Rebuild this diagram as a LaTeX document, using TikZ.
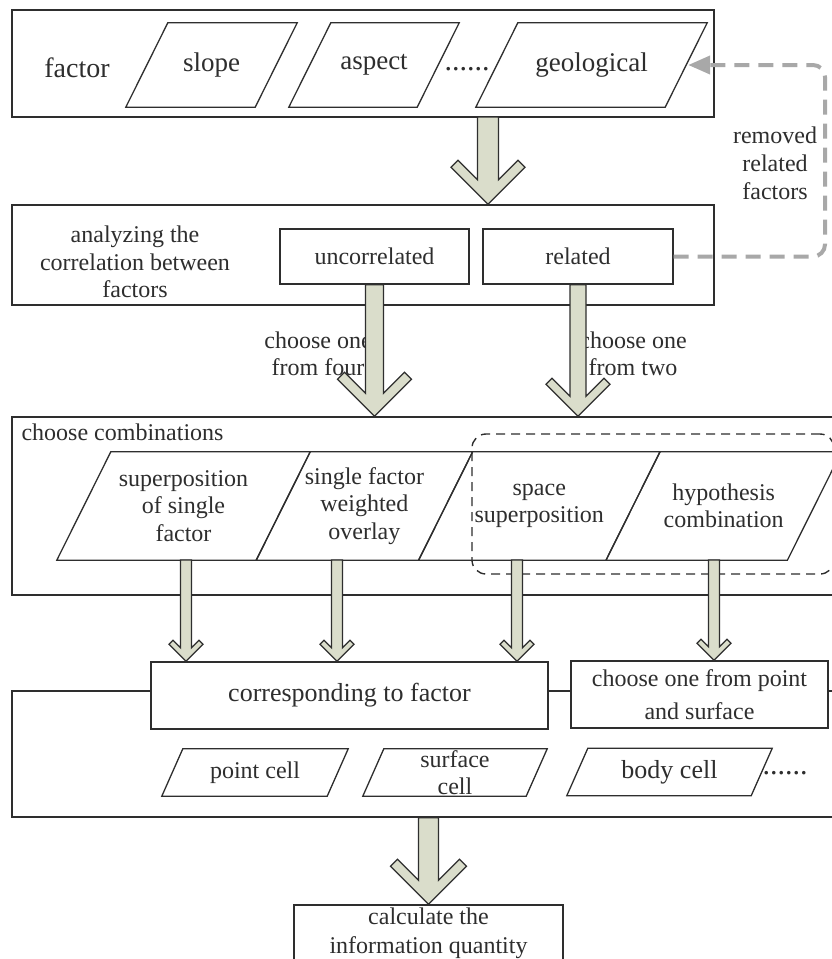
\documentclass[tikz,border=0pt]{standalone}
\usepackage{fontspec}
\setmainfont{Liberation Serif}
\usetikzlibrary{calc}
\usetikzlibrary{positioning}
\usetikzlibrary{arrows.meta}
\definecolor{inkgray}{HTML}{2E2E2E}
\definecolor{arrowfill}{HTML}{DADDCB}
\definecolor{loopgray}{HTML}{A8A8A8}

% block arrow with a chevron head: from, to, shaft half width, head half width, arm
\newcommand{\fatarrow}[5]{%
  \draw[fatarrow] let \p1=(#1), \p2=(#2) in
    (\x1-#3pt,\y1) -- (\x1-#3pt,\y2+#3pt+2*#5pt) -- (\x1-#4pt+#5pt,\y2+#4pt+#5pt)
    -- (\x1-#4pt,\y2+#4pt) -- (\x1,\y2) -- (\x1+#4pt,\y2+#4pt)
    -- (\x1+#4pt-#5pt,\y2+#4pt+#5pt) -- (\x1+#3pt,\y2+#3pt+2*#5pt) -- (\x1+#3pt,\y1) -- cycle;}
% parallelogram round a node: node, slant
\newcommand{\drawpara}[2]{%
  \draw[paraline] (#1.south west) -- ([xshift=#2pt]#1.north west) -- (#1.north east)
    -- ([xshift=-#2pt]#1.south east) -- cycle;}

\begin{document}
\begin{tikzpicture}[x=1pt,y=-1pt,text=inkgray,font=\fontsize{24}{27.5}\selectfont]
  \tikzstyle{frame}=[draw=inkgray,line width=1.4pt,inner sep=0pt]
  \tikzstyle{box}=[frame,fill=white,align=center]
  \tikzstyle{para}=[rectangle,inner sep=0pt,align=center]
  \tikzstyle{paraline}=[draw=inkgray,line width=1.3pt,line join=miter]
  \tikzstyle{dots}=[inner sep=0pt,font=\fontsize{30}{30}\selectfont]
  \tikzstyle{fatarrow}=[draw=inkgray,line width=1.2pt,fill=arrowfill,line join=miter]
  \tikzstyle{removed}=[draw=loopgray,line width=4pt,dash pattern=on 15pt off 9pt,rounded corners=12pt]
  \tikzstyle{group}=[draw=inkgray,line width=1.4pt,dash pattern=on 9pt off 6pt,rounded corners=14pt,inner sep=0pt]

  \useasboundingbox (0,0) rectangle (832,959);
  \clip (0,0) rectangle (832,959);
  \fill[white] (0,0) rectangle (832,959);

  % factors
  \node[frame,minimum width=702pt,minimum height=107pt] (factorbox) at (363,63.5) {};
  \node[font=\fontsize{28}{30}\selectfont] (factor) at (77,68) {factor};
  \node[para,font=\fontsize{27}{30}\selectfont,minimum width=171pt,minimum height=84pt] (slope) at (211.5,65) {slope};
  \node[para,font=\fontsize{27}{30}\selectfont,minimum width=170pt,minimum height=84pt] (aspect) at (374,65) {aspect};
  \node[para,font=\fontsize{27}{30}\selectfont,minimum width=231pt,minimum height=84pt] (geo) at (591.5,65) {geological};
  \drawpara{slope}{42}
  \drawpara{aspect}{42}
  \drawpara{geo}{42}
  \node[dots] (dots1) at (467,69) {......};

  % correlation
  \node[frame,minimum width=702pt,minimum height=100pt] (corrbox) at (363,255) {};
  \node[align=center] (analyze) at (135,262) {analyzing the\\correlation between\\factors};
  \node[box,minimum width=189pt,minimum height=55pt] (uncorr) at (374.5,256.5) {uncorrelated};
  \node[box,minimum width=190pt,minimum height=55pt] (related) at (578,256.5) {related};

  \coordinate (loopx) at (825,0);
  \draw[removed,-{Triangle[length=22pt,width=18pt]}] (related.east) -- (related.east -| loopx) |- ([xshift=-19pt]geo.east);
  \node[align=center,font=\fontsize{24}{28}\selectfont] (remtext) at (775,163) {removed\\related\\factors};

  \coordinate (a0) at (488,117);
  \fatarrow{a0}{corrbox.north}{10.5}{37}{7}

  % combinations
  \node[frame,minimum width=888pt,minimum height=178pt] (combobox) at (456,506) {};
  \node[anchor=west] (combtext) at (18,432) {choose combinations};
  \node[para,minimum width=253pt,minimum height=108pt] (p1) at (183.5,506) {superposition\\of single\\factor};
  \node[para,minimum width=216pt,minimum height=108pt,anchor=south west] (p2) at ([xshift=-54pt]p1.south east) {single factor\\weighted\\overlay};
  \node[para,minimum width=241pt,minimum height=108pt,anchor=south west] (p3) at ([xshift=-54pt]p2.south east) {space\\superposition};
  \node[para,minimum width=235pt,minimum height=108pt,anchor=south west] (p4) at ([xshift=-54pt]p3.south east) {hypothesis\\combination};
  \drawpara{p1}{54}
  \drawpara{p2}{54}
  \drawpara{p3}{54}
  \drawpara{p4}{54}
  \node[group,minimum width=362pt,minimum height=140pt] (grp) at (653,504) {};

  \node[align=center] (four) at (318,354) {choose one\\from four};
  \node[align=center] (two) at (633,354) {choose one\\from two};
  \fatarrow{uncorr.south}{combobox.north}{9}{37}{7}
  \fatarrow{related.south}{combobox.north}{8}{32}{6}

  % cells
  \node[frame,minimum width=888pt,minimum height=126pt] (cellbox) at (456,754) {};
  \node[box,font=\fontsize{26}{30}\selectfont,minimum width=397pt,minimum height=67pt] (corr) at (349.5,695.5) {corresponding to factor};
  \node[box,font=\fontsize{24}{33}\selectfont,minimum width=257pt,minimum height=67pt] (choosept) at (699.5,694.5) {choose one from point\\and surface};
  \node[para,minimum width=186pt,minimum height=47pt] (point) at (255,772.5) {point cell};
  \node[para,minimum width=184pt,minimum height=47pt] (surf) at (455,772.5) {};
  \node[align=center,font=\fontsize{24}{27}\selectfont] (surftext) at (surf.center) {surface\\cell};
  \node[para,font=\fontsize{26}{30}\selectfont,minimum width=205pt,minimum height=47pt] (body) at (669.5,772) {body cell};
  \drawpara{point}{21}
  \drawpara{surf}{21}
  \drawpara{body}{21}
  \node[dots] (dots2) at (785,773) {......};

  \coordinate (d1) at (186,560);
  \coordinate (d2) at (337,560);
  \coordinate (d3) at (517,560);
  \coordinate (d4) at (714,560);
  \fatarrow{d1}{corr.north}{5.5}{17}{4}
  \fatarrow{d2}{corr.north}{5.5}{17}{4}
  \fatarrow{d3}{corr.north}{5.5}{17}{4}
  \fatarrow{d4}{choosept.north}{5.5}{17}{4}

  % result
  \node[box,minimum width=269pt,minimum height=56pt,font=\fontsize{24}{29}\selectfont] (calc) at (428.5,933) {calculate the\\information quantity};
  \fatarrow{cellbox.south -| calc.north}{calc.north}{10}{38}{7}
\end{tikzpicture}
\end{document}
